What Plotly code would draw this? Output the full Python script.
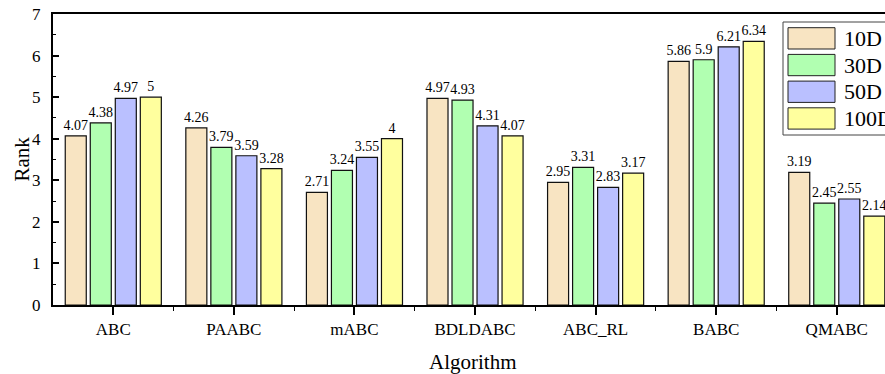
import plotly.graph_objects as go

algorithms = ["ABC", "PAABC", "mABC", "BDLDABC", "ABC_RL", "BABC", "QMABC"]
series_names = ["10D", "30D", "50D", "100D"]
rank_10d = [4.07, 4.26, 2.71, 4.97, 2.95, 5.86, 3.19]
rank_30d = [4.38, 3.79, 3.24, 4.93, 3.31, 5.9, 2.45]
rank_50d = [4.97, 3.59, 3.55, 4.31, 2.83, 6.21, 2.55]
rank_100d = [5, 3.28, 4, 4.07, 3.17, 6.34, 2.14]
colors = ["#F8E4C2", "#B1FFB1", "#BAC0FF", "#FFFF9E"]

FONT = "Liberation Serif"
W, H = 885, 374
ML, MR, MT, MB = 53, 0, 14, 69
PW, PH = W - ML - MR, H - MT - MB


def px_x(px):
    return (px - ML) / PW


def px_y(py):
    return (H - MB - py) / PH


xpos = list(range(len(algorithms)))

fig = go.Figure()
for name, vals, col in zip(series_names, [rank_10d, rank_30d, rank_50d, rank_100d], colors):
    fig.add_trace(go.Bar(
        x=xpos, y=vals, name=name,
        marker=dict(color=col, line=dict(color="#111111", width=1.2)),
        text=[f"{v:g}" for v in vals], textposition="outside",
        constraintext="none",
        textfont=dict(family=FONT, size=14, color="black"),
        cliponaxis=False,
        showlegend=False,
    ))

# legend drawn as a framed box with swatches (styled like the reference)
shapes = [dict(type="rect", xref="paper", yref="paper",
               x0=px_x(783), x1=px_x(895), y0=px_y(135), y1=px_y(22),
               line=dict(color="#444444", width=1), fillcolor="white", layer="above")]
annotations = []
for i, (name, col) in enumerate(zip(series_names, colors)):
    top = 27.7 + i * 26.7
    shapes.append(dict(type="rect", xref="paper", yref="paper",
                       x0=px_x(788), x1=px_x(835), y0=px_y(top + 21.3), y1=px_y(top),
                       line=dict(color="#222222", width=1), fillcolor=col, layer="above"))
    annotations.append(dict(text=name, xref="paper", yref="paper",
                            x=px_x(842), y=px_y(top + 10.7), xanchor="left", yanchor="middle",
                            showarrow=False, font=dict(family=FONT, size=22, color="black")))

annotations.append(dict(text="Rank", xref="paper", yref="paper", x=px_x(21), y=0.5,
                        textangle=-90, xanchor="center", yanchor="middle", showarrow=False,
                        font=dict(family=FONT, size=21, color="black")))
annotations.append(dict(text="Algorithm", xref="paper", yref="paper", x=px_x(473), y=px_y(362),
                        xanchor="center", yanchor="middle", showarrow=False,
                        font=dict(family=FONT, size=21, color="black")))

fig.update_layout(
    width=W, height=H,
    margin=dict(l=ML, r=MR, t=MT, b=MB, autoexpand=False),
    paper_bgcolor="white", plot_bgcolor="white",
    barmode="group", bargap=0.17, bargroupgap=0.16,
    font=dict(family=FONT, color="black"),
    showlegend=False,
    shapes=shapes, annotations=annotations,
)
fig.update_xaxes(
    range=[-0.5, 6.4], automargin=False,
    tickmode="array", tickvals=xpos, ticktext=algorithms,
    ticks="outside", ticklen=8, tickwidth=1.5, tickcolor="black",
    minor=dict(tickmode="array", tickvals=[i + 0.5 for i in range(6)],
               ticks="outside", ticklen=4, tickwidth=1.2, tickcolor="black"),
    showline=True, linecolor="black", linewidth=2, mirror=True,
    showgrid=False, zeroline=False,
    tickfont=dict(family=FONT, size=17, color="black"),
)
fig.update_yaxes(
    range=[0, 7], dtick=1, automargin=False,
    ticks="inside", ticklen=6, tickwidth=1.5, tickcolor="black",
    minor=dict(dtick=0.5, ticks="inside", ticklen=3, tickwidth=1.2, tickcolor="black"),
    showline=True, linecolor="black", linewidth=2,
    showgrid=False, zeroline=False, ticklabelstandoff=7,
    tickfont=dict(family=FONT, size=17, color="black"),
)

fig.write_html("out.html", config={"displayModeBar": False},
               post_script="document.body.style.margin='0';")
